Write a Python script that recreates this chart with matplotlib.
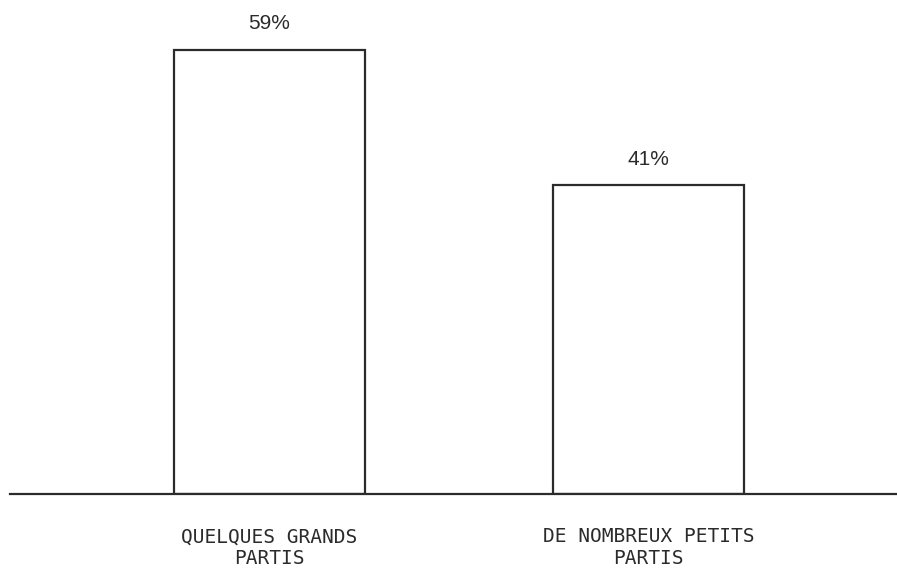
import matplotlib
matplotlib.use("Agg")
import matplotlib.pyplot as plt

# ── données ────────────────────────────────────────────────────────────────
categories = ["QUELQUES GRANDS\nPARTIS", "DE NOMBREUX PETITS\nPARTIS"]
values = [59, 41]
value_labels = ["59%", "41%"]

INK = "#2b2b2b"
W, H = 897, 569

fig = plt.figure(figsize=(W / 100, H / 100), dpi=100)
# axes placed in pixel terms: baseline at y=494, from x=10 to right edge
ax = fig.add_axes([10 / W, (H - 494) / H, (W - 10) / W, 474 / H])

x = list(range(len(categories)))
ax.bar(x, values, width=0.504, facecolor="white", edgecolor=INK, linewidth=1.6, zorder=2)

for xi, v, lab in zip(x, values, value_labels):
    ax.annotate(lab, (xi, v), xytext=(0, 12), textcoords="offset points",
                ha="center", va="bottom", fontsize=15, color=INK,
                family="Liberation Sans")

ax.set_xlim((10 - 269.5) / 379, (W - 269.5) / 379)
ax.set_ylim(0, 474 / 7.53)

ax.set_xticks(x)
ax.set_xticklabels(categories, family="DejaVu Sans Mono", fontsize=14,
                   color=INK, linespacing=1.2)
ax.tick_params(axis="x", length=0, pad=24)
ax.set_yticks([])

for side in ("top", "right", "left"):
    ax.spines[side].set_visible(False)
ax.spines["bottom"].set_color(INK)
ax.spines["bottom"].set_linewidth(1.6)
ax.spines["bottom"].set_zorder(3)

fig.savefig("out.png", dpi=100)
